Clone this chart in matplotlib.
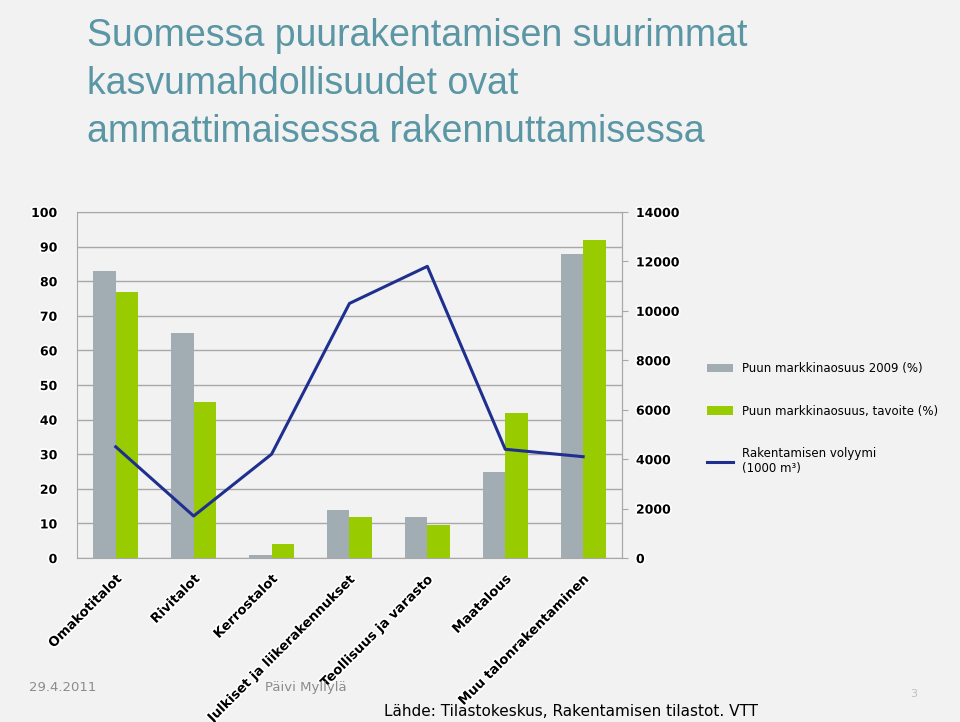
import matplotlib
matplotlib.use("Agg")
import matplotlib.pyplot as plt
import matplotlib.patheffects as pe
import numpy as np

categories = ["Omakotitalot", "Rivitalot", "Kerrostalot", "Julkiset ja liikerakennukset",
              "Teollisuus ja varasto", "Maatalous", "Muu talonrakentaminen"]
share_gray = [83, 65, 1, 14, 12, 25, 88]
share_green = [77, 45, 4, 12, 9.5, 42, 92]
volume_line = [4500, 1700, 4200, 10300, 11800, 4400, 4100]
left_ticks = [0, 10, 20, 30, 40, 50, 60, 70, 80, 90, 100]
right_ticks = [0, 2000, 4000, 6000, 8000, 10000, 12000, 14000]
legend_labels = ["Puun markkinaosuus 2009 (%)", "Puun markkinaosuus, tavoite (%)",
                 "Rakentamisen volyymi\n(1000 m³)"]

bg = "#f2f2f2"
fig = plt.figure(figsize=(9.6, 7.22), dpi=100, facecolor=bg)
halo = [pe.withStroke(linewidth=2.5, foreground="white")]

fig.text(0.091, 0.975, "Suomessa puurakentamisen suurimmat\nkasvumahdollisuudet ovat\nammattimaisessa rakennuttamisessa",
         color="#5a96a4", fontsize=27, va="top", ha="left", linespacing=1.42,
         family="Liberation Sans")

ax = fig.add_axes([0.080, 0.2271, 0.568, 0.4793])
ax.set_facecolor(bg)
x = np.arange(len(categories))
w = 0.29
b1 = ax.bar(x - w / 2, share_gray, w, color="#a2adb3", zorder=2, label=legend_labels[0])
b2 = ax.bar(x + w / 2, share_green, w, color="#99cc00", zorder=2, label=legend_labels[1])
ax.set_ylim(0, 100)
ax.set_xlim(-0.5, len(categories) - 0.5)
ax.set_yticks(left_ticks)
ax.yaxis.grid(True, color="#a8a8a8", linewidth=1, zorder=0)
for s in ["top", "right", "left", "bottom"]:
    ax.spines[s].set_color("#a8a8a8")
ax.tick_params(axis="y", length=0, labelsize=9, pad=14)
for t in ax.get_yticklabels():
    t.set_fontweight("bold"); t.set_path_effects(halo)
ax.set_xticks(x)
ax.set_xticklabels(categories, rotation=45, ha="right", rotation_mode="anchor",
                   fontsize=9.5, fontweight="bold")
for t in ax.get_xticklabels():
    t.set_path_effects(halo)
ax.tick_params(axis="x", length=0, pad=10)

ax2 = ax.twinx()
ln, = ax2.plot(x, volume_line, color="#1f2f8f", linewidth=2.2, zorder=3, label=legend_labels[2])
ax2.set_ylim(0, 14000)
ax2.set_yticks(right_ticks)
ax2.tick_params(axis="y", length=4, color="#a8a8a8", labelsize=9, pad=6)
for t in ax2.get_yticklabels():
    t.set_fontweight("bold"); t.set_path_effects(halo)
for s in ["top", "left", "bottom"]:
    ax2.spines[s].set_visible(False)
ax2.spines["right"].set_color("#a8a8a8")

fig.legend([b1, b2, ln], legend_labels, loc="center left", bbox_to_anchor=(0.725, 0.42),
           frameon=False, fontsize=8.5, labelspacing=2.5, handlelength=2.2)

fig.text(0.030, 0.043, "29.4.2011", fontsize=9.5, color="#8c8c8c")
fig.text(0.276, 0.043, "Päivi Myllylä", fontsize=9.5, color="#8c8c8c")
fig.text(0.40, 0.008, "Lähde: Tilastokeskus, Rakentamisen tilastot. VTT", fontsize=11, color="black")
fig.text(0.948, 0.035, "3", fontsize=8, color="#bfbfbf")

fig.savefig("out.png", dpi=100, facecolor=bg)
